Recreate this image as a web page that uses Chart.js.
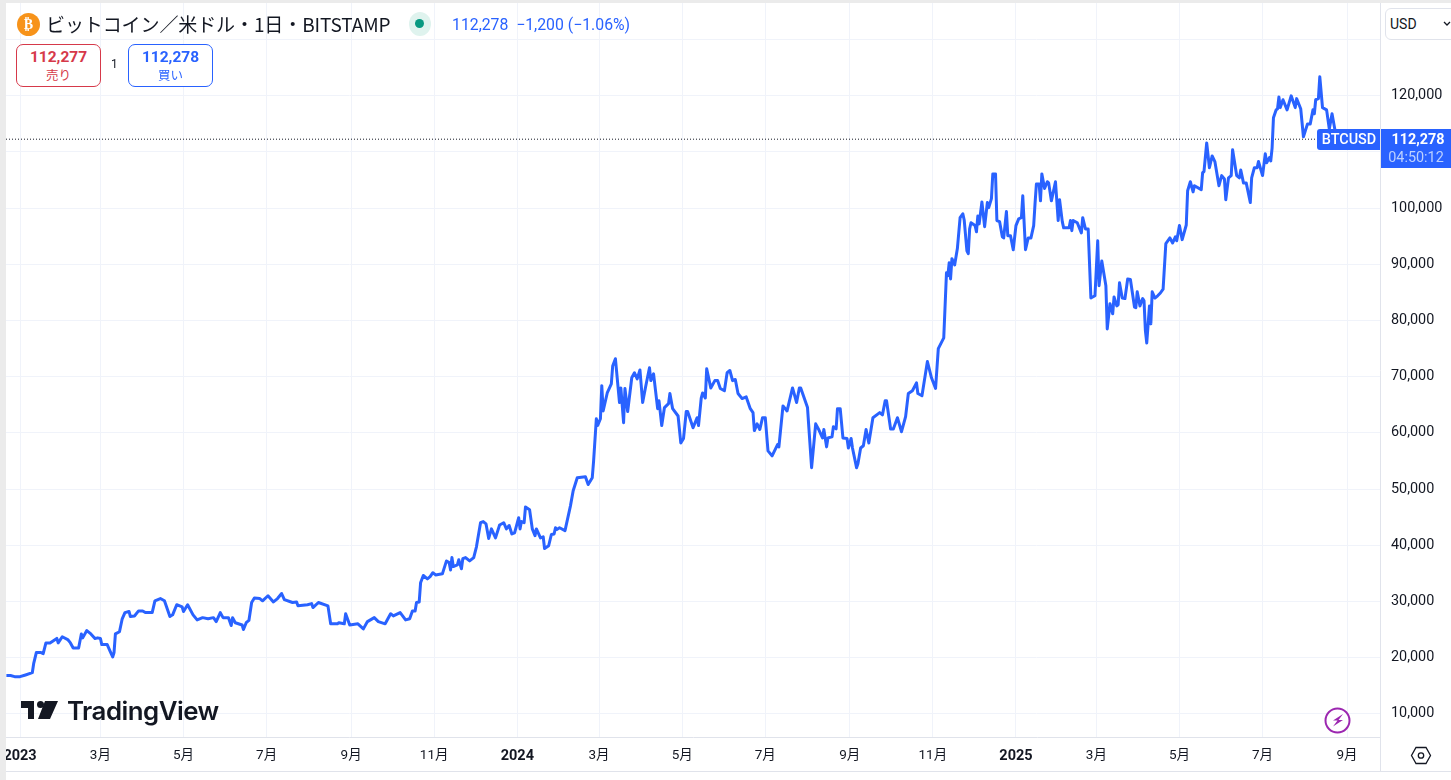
<!DOCTYPE html>
<html lang="ja">
<head>
<meta charset="utf-8">
<title>ビットコイン／米ドル</title>
<script src="https://cdn.jsdelivr.net/npm/chart.js@4"></script>
<style>
html, body { margin: 0; padding: 0; background: #fff; overflow: hidden; }
body { width: 1451px; height: 780px; position: relative; font-family: Roboto, "Noto Sans CJK JP", sans-serif; color: #131722; }
#chartBox { position: absolute; left: 0; top: 0; width: 1451px; height: 780px; }
.abs { position: absolute; white-space: nowrap; }
#stripLeft { left: 0; top: 0; width: 6px; height: 780px; background: #ebebeb; }
#stripTop { left: 0; top: 0; width: 1451px; height: 3px; background: #ebebeb; }
#lineBottom { left: 6px; top: 771px; width: 1445px; height: 1px; background: #e0e3eb; }
#lineAxis { left: 1380px; top: 737px; width: 1px; height: 34px; background: #e0e3eb; }
#coin { left: 17px; top: 13px; width: 23px; height: 23px; border-radius: 50%; background: #f7931a; color: #fff; font: bold 14px/23px "DejaVu Sans"; text-align: center; }
#title { left: 46px; top: 11px; font: 19px/26px "Noto Sans CJK JP"; letter-spacing: -0.1px; }
#halo { left: 409px; top: 12px; width: 22px; height: 24px; border-radius: 50%; background: #dff3ee; }
#dot { left: 415px; top: 19px; width: 9px; height: 9px; border-radius: 50%; background: #089981; }
#quote { left: 452px; top: 15px; font: 15.8px/19px Roboto; color: #2962ff; }
.btn { top: 44px; width: 83px; height: 41px; border: 1px solid; border-radius: 7px; background: #fff; text-align: center; }
.btn b { display: block; font: bold 15.5px/18px Roboto; margin-top: 3px; }
.btn span { display: block; font: 12.5px/17px "Noto Sans CJK JP"; }
#sell { left: 16px; border-color: #d6394a; color: #d6394a; }
#buy { left: 128px; border-color: #2962ff; color: #2962ff; }
#spread { left: 111px; top: 57px; font: 12px/15px Roboto; }
#usd { left: 1385px; top: 8px; width: 80px; height: 30px; border: 1px solid #e0e3eb; border-radius: 6px; background: #fff; }
#usdText { left: 1390px; top: 16px; font: 14px/17px Roboto; }
#logoText { left: 67px; top: 695px; font: 600 25.8px/32px Inter; letter-spacing: -0.5px; color: #131722; }
svg.abs { overflow: visible; }
</style>
</head>
<body>
<div id="chartBox"><canvas id="priceChart"></canvas></div>
<div class="abs" id="stripLeft"></div>
<div class="abs" id="stripTop"></div>
<div class="abs" id="lineBottom"></div>
<div class="abs" id="lineAxis"></div>
<div class="abs" id="coin">₿</div>
<div class="abs" id="title">ビットコイン／米ドル・1日・BITSTAMP</div>
<div class="abs" id="halo"></div>
<div class="abs" id="dot"></div>
<div class="abs" id="quote">112,278&nbsp; −1,200 (−1.06%)</div>
<div class="abs btn" id="sell"><b>112,277</b><span>売り</span></div>
<div class="abs" id="spread">1</div>
<div class="abs btn" id="buy"><b>112,278</b><span>買い</span></div>
<div class="abs" id="usd"></div>
<div class="abs" id="usdText">USD</div>
<svg class="abs" style="left:0;top:0" width="1451" height="780">
  <path d="M1444 22l3 3 3-3" fill="none" stroke="#131722" stroke-width="1.3"/>
  <path d="M21 701h13v18h-6v-11h-7z M45 701h13l-8 18h-12z" fill="#131722"/>
  <circle cx="40.500" cy="704.500" r="3.500" fill="#131722"/>
  <circle cx="1337.500" cy="720.500" r="12" fill="#fff" stroke="#9c27b0" stroke-width="2"/>
  <path d="M1343 714l-10 6.500h4.500l-4.500 6 10-6.500h-4.500z" fill="#9c27b0"/>
  <path d="M1416 747.500h10l4.500 8-4.500 8h-10l-4.500-8z" fill="none" stroke="#131722" stroke-width="1.300"/>
  <circle cx="1421" cy="755.500" r="2.700" fill="none" stroke="#131722" stroke-width="1.300"/>
</svg>
<div class="abs" id="logoText">TradingView</div>
<script>
// days since 2023-01-01
const days = [-10,-7,-4,0,4,9,10,12,15,17,19,22,27,28,31,35,37,39,43,45,46,49,52,55,57,59,60,64,66,68,69,70,73,75,77,80,81,84,87,90,92,97,99,103,106,110,112,115,119,120,123,127,130,134,138,
142,144,147,149,153,155,156,158,163,164,166,168,170,172,176,178,182,186,189,192,194,200,203,204,211,214,215,219,226,228,233,234,238,239,242,248,252,255,260,263,268,272,274,279,283,286,288,290,291,293,
294,296,299,301,303,305,310,313,315,316,317,318,321,322,324,325,327,330,333,335,338,340,342,344,346,349,352,355,357,359,361,363,366,367,368,370,371,374,376,378,379,382,384,385,388,390,392,393,394,396,400,404,406,409,415,417,420,421,
423,424,426,427,428,431,434,435,437,440,441,443,444,446,449,451,453,455,457,459,462,463,465,468,469,471,473,476,477,479,483,485,487,489,490,494,497,498,500,501,503,504,507,510,512,514,517,519,521,523,525,527,530,533,536,538,539,541,543,545,547,549,552,556,557,560,563,567,570,572,573,578,579,581,584,586,589,590,592,593,596,597,599,600,602,604,607,608,610,611,614,615,617,619,621,623,626,631,633,635,636,639,641,644,647,650,652,655,658,659,662,666,669,672,
674,678,680,681,682,683,684,686,688,690,692,693,695,696,697,698,701,702,703,704,706,708,710,711,713,714,716,717,719,721,722,724,725,727,729,731,733,735,736,738,740,742,744,745,746,748,749,750,752,754,755,757,760,762,763,765,766,770,771,772,773,776,779,780,782,784,786,789,791,792,794,797,798,800,802,803,805,806,807,809,811,813,815,818,819,820,822,824,825,826,827,829,830,831,833,835,837,839,841,844,846,848,849,851,853,856,
857,859,861,862,867,868,869,871,873,875,877,880,882,884,885,887,889,890,893,895,896,898,900,903,904,906,908,909,912,914,915,917,918,919,920,922,923,924,925,927,930,933,936,937,940,942,945,947,949,950,951,953,954,956,959,961,963,965,966];

const closes = [16800,16800,16600,16600,16900,17300,18900,20900,20900,20700,22600,22600,23400,22600,23700,23200,22600,21700,21700,24200,23500,24800,24200,23400,23500,23400,22300,22300,21200,20100,20900,24200,24600,26900,28000,28200,27300,27400,28300,28300,28000,28000,30100,30500,30100,27300,27600,29400,29000,28200,29400,27600,26700,27100,26900,
27100,26400,28000,27100,27100,25700,27100,26200,25800,25000,26200,26600,29800,30600,30500,30100,31000,29900,30500,31400,30300,29800,29900,29200,29400,29600,28900,29800,29200,26000,26000,26200,26000,27800,25800,26000,25100,26400,27100,26400,26000,27800,27400,28000,26700,26900,28300,28300,29800,29900,
33300,34600,34000,34400,35100,34700,34900,37200,36900,35600,37800,36200,36500,37400,35800,37600,37800,37200,37800,39700,44000,44200,43800,41200,42900,41300,43600,44000,42900,43500,42000,42200,44900,42900,44200,44000,46800,46300,42900,41700,42900,41300,41500,39400,39900,41900,42000,43100,42800,43100,42600,47000,49700,52000,52200,50800,52000,55000,
62500,61300,62500,68400,63900,67100,68700,71900,73200,65400,68000,61800,67900,63800,69800,70700,69600,71200,65400,68000,71600,69300,70500,64300,65700,61300,64500,65200,67000,64300,63000,58200,59000,63800,63800,60900,62700,61300,66200,67100,66200,71400,68000,69300,69300,67900,67500,70700,71100,69300,69500,67000,66100,66400,64300,63600,60400,61600,60600,62700,62700,56800,55900,57900,57500,64800,63900,68000,65400,68000,68000,64500,60900,53800,61600,60700,59100,60600,57500,59100,59300,61100,60700,64300,64300,59100,59000,57300,59000,57300,53800,54500,57300,57700,60600,58200,62700,63600,63200,65700,65700,60700,60700,62700,60200,62900,67000,67500,68900,67000,66600,72700,69800,67900,
75000,76900,88500,88000,90300,87400,91000,89900,92800,98300,99000,97900,92400,91900,96300,97400,96900,95800,98600,97200,101100,96700,101000,100100,101700,106100,106100,97800,97600,94900,94700,99400,95100,95100,92600,96900,98100,98300,102200,92600,94700,94700,96900,100800,104300,104300,101300,106100,103500,104700,104500,101300,104700,97800,101500,97600,96500,96500,97800,96000,97800,97400,95600,98300,96300,96300,84000,84400,94200,86200,90600,86200,78500,83000,81200,84200,82600,82800,86700,84000,83900,87400,87300,82400,82300,85100,82600,83900,83500,78200,76000,82600,79400,85100,84000,84400,84900,85600,93700,94700,93800,94900,94200,96900,94400,97000,
103100,104700,102900,104000,103300,106300,106500,111600,107200,109300,108300,104000,105800,105200,101500,105400,105800,110400,105800,105400,106800,104500,104500,101000,105400,107200,107200,108300,105800,109700,108100,109000,108400,110700,116100,117500,117700,119800,117900,119300,117500,120000,117900,119500,117700,112700,115000,115000,117500,116800,119300,119500,123400,117900,117500,114100,116800,114100,112300];

const monthDays = [0,59,120,181,243,304,365,425,486,547,609,670,731,790,851,912,974];
const monthLabels = ['2023','3月','5月','7月','9月','11月','2024','3月','5月','7月','9月','11月','2025','3月','5月','7月','9月'];
const priceTicks = [10000,20000,30000,40000,50000,60000,70000,80000,90000,100000,110000,120000,130000];
const hiddenPriceLabels = [110000,130000];
const lastPrice = 112278;
const dayRange = [-10.3, 998.2];
const priceRange = [5852, 136525];

const gridColor = '#f0f3fa';
const axisColor = '#e0e3eb';
const lineBlue = '#2962ff';

// price tags on the right, follow the y scale
const priceTagPlugin = {
    id: 'priceTag',
    afterDraw(chart) {
        const c = chart.ctx;
        const y = Math.round(chart.scales.y.getPixelForValue(lastPrice));
        const right = chart.chartArea.right;
        c.save();
        c.fillStyle = lineBlue;
        c.beginPath();
        c.roundRect(right - 63, y - 10, 63, 21, [3, 0, 0, 3]);
        c.fill();
        c.fillRect(right + 1, y - 10, 70, 39);
        c.textBaseline = 'middle';
        c.textAlign = 'center';
        c.fillStyle = '#fff';
        c.font = '500 14.4px Roboto';
        c.fillText('BTCUSD', right - 31, y + 1);
        c.font = 'bold 14.4px Roboto';
        c.fillText('112,278', right + 38, y + 1);
        c.fillStyle = '#bcd0ff';
        c.font = '14.4px Roboto';
        c.fillText('04:50:12', right + 36, y + 19);
        c.restore();
    }
};

function tickFont(context) {
    const isYear = context.tick && monthDays.indexOf(context.tick.value) % 6 === 0;
    return { family: 'Roboto, "Noto Sans CJK JP"', size: isYear ? 14.5 : 13.5, weight: isYear ? 'bold' : 'normal' };
}

const ctx = document.getElementById('priceChart').getContext('2d');
const priceChart = new Chart(ctx, {
    type: 'line',
    plugins: [priceTagPlugin],
    data: {
        datasets: [{
            data: days.map((d, i) => ({ x: d, y: closes[i] })),
            borderColor: lineBlue,
            borderWidth: 3,
            pointRadius: 0,
            tension: 0,
            borderJoinStyle: 'round'
        }, {
            data: dayRange.map(d => ({ x: d, y: lastPrice })),
            borderColor: '#131722',
            borderWidth: 1,
            borderDash: [1, 2],
            pointRadius: 0
        }]
    },
    options: {
        responsive: true,
        maintainAspectRatio: false,
        animation: false,
        layout: { padding: { left: 6, top: 3, bottom: 9, right: 0 } },
        plugins: { legend: { display: false }, tooltip: { enabled: false } },
        scales: {
            x: {
                type: 'linear',
                min: dayRange[0],
                max: dayRange[1],
                grid: { color: gridColor, drawTicks: false },
                border: { color: axisColor },
                afterBuildTicks(scale) {
                    scale.ticks = monthDays.map(v => ({ value: v }));
                },
                afterFit(scale) {
                    scale.height = 34;
                    scale.paddingLeft = 0;
                    scale.paddingRight = 0;
                },
                ticks: {
                    autoSkip: false,
                    maxRotation: 0,
                    padding: 11,
                    color: '#131722',
                    font: tickFont,
                    callback: v => monthLabels[monthDays.indexOf(v)]
                }
            },
            y: {
                position: 'right',
                min: priceRange[0],
                max: priceRange[1],
                grid: { color: gridColor, drawTicks: false },
                border: { color: axisColor },
                afterBuildTicks(scale) {
                    scale.ticks = priceTicks.map(v => ({ value: v }));
                },
                afterFit(scale) {
                    scale.width = 71;
                    scale.paddingTop = 0;
                    scale.paddingBottom = 0;
                },
                ticks: {
                    padding: 11,
                    color: '#131722',
                    font: { family: 'Roboto', size: 14.4 },
                    callback: v => hiddenPriceLabels.includes(v) ? '' : v.toLocaleString('en-US')
                }
            }
        }
    }
});
</script>
</body>
</html>
